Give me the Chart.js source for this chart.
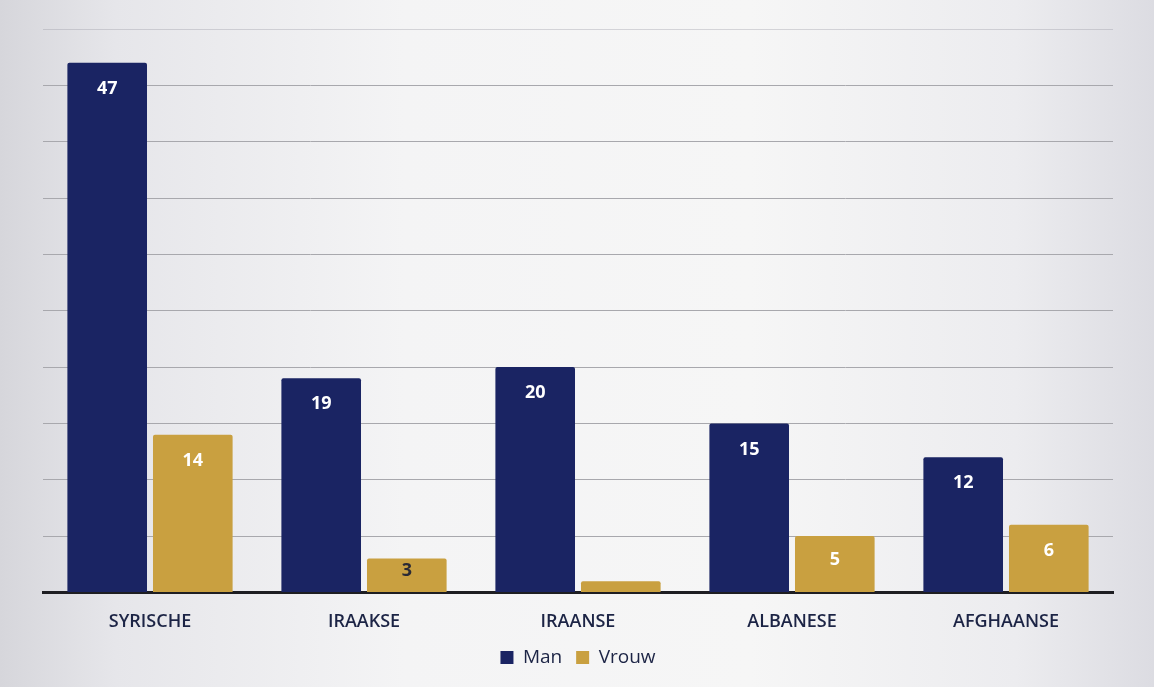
<!DOCTYPE html>
<html lang="en">
<head>
    <meta charset="UTF-8">
    <title>Man / Vrouw per nationaliteit</title>
    <style>
        html, body {
            margin: 0;
            padding: 0;
        }
        body {
            width: 1154px;
            height: 687px;
            background: linear-gradient(90deg, #d6d6db 0%, #e6e6ea 10%, #f4f4f5 35%, #f6f6f6 65%, #ececef 88%, #dcdce2 100%);
            font-family: "Open Sans", Arial, sans-serif;
        }
        .chart-box {
            position: absolute;
            left: 0;
            top: 0;
            width: 1154px;
            height: 687px;
        }
    </style>
</head>
<body>
    <div class="chart-box">
        <canvas id="nationChart"></canvas>
    </div>

    <script src="https://cdn.jsdelivr.net/npm/chart.js"></script>
    <script>
        // Data
        const categories = ['SYRISCHE', 'IRAAKSE', 'IRAANSE', 'ALBANESE', 'AFGHAANSE'];
        const manValues = [47, 19, 20, 15, 12];
        const vrouwValues = [14, 3, 1, 5, 6];
        const vrouwLabelShown = [true, true, false, true, true];
        const yTicks = [0, 5, 10, 15, 20, 25, 30, 35, 40, 45, 50];

        const navy = '#1a2463';
        const gold = '#c9a040';

        // small label plugin: value inside bar, near its top
        const barLabels = {
            id: 'barLabels',
            afterDatasetsDraw(chart) {
                const ctx = chart.ctx;
                ctx.save();
                ctx.font = 'bold 18px "Open Sans", Arial, sans-serif';
                ctx.textAlign = 'center';
                ctx.textBaseline = 'middle';
                chart.data.datasets.forEach((ds, di) => {
                    const meta = chart.getDatasetMeta(di);
                    meta.data.forEach((bar, i) => {
                        if (di === 1 && !vrouwLabelShown[i]) return;
                        const top = bar.y;
                        const bottom = bar.base;
                        const y = Math.min(top + 26, (top + bottom) / 2 - 4);
                        ctx.fillStyle = (di === 1 && ds.data[i] < 4) ? '#2a2a35' : '#ffffff';
                        ctx.fillText(String(ds.data[i]), bar.x, y);
                    });
                });
                ctx.restore();
            }
        };

        const ctx = document.getElementById('nationChart').getContext('2d');
        new Chart(ctx, {
            type: 'bar',
            data: {
                labels: categories,
                datasets: [{
                    label: 'Man',
                    data: manValues,
                    backgroundColor: navy,
                    borderRadius: 2,
                    borderSkipped: 'bottom',
                    barPercentage: 0.93,
                    categoryPercentage: 0.8
                }, {
                    label: 'Vrouw',
                    data: vrouwValues,
                    backgroundColor: gold,
                    borderRadius: 2,
                    borderSkipped: 'bottom',
                    barPercentage: 0.93,
                    categoryPercentage: 0.8
                }]
            },
            options: {
                responsive: true,
                maintainAspectRatio: false,
                animation: false,
                layout: {
                    padding: { left: 43, right: 41, top: 29, bottom: 10 }
                },
                plugins: {
                    legend: {
                        position: 'bottom',
                        labels: {
                            boxWidth: 13,
                            boxHeight: 13,
                            padding: 4,
                            color: '#1c2445',
                            font: { size: 19, family: '"Open Sans", Arial, sans-serif' },
                            // a bit more room after "Man", as in the original
                            generateLabels(chart) {
                                const items = Chart.defaults.plugins.legend.labels.generateLabels(chart);
                                items.forEach((it, i) => {
                                    if (i < items.length - 1) it.text = it.text + '  ';
                                });
                                return items;
                            }
                        }
                    },
                    tooltip: { enabled: false }
                },
                scales: {
                    x: {
                        grid: { display: false },
                        border: { display: true, color: '#1e1e22', width: 3 },
                        ticks: {
                            padding: 11,
                            color: '#1c2445',
                            font: { size: 18, weight: '600', family: '"Open Sans", Arial, sans-serif' }
                        }
                    },
                    y: {
                        min: 0,
                        max: 50,
                        afterBuildTicks(scale) {
                            scale.ticks = yTicks.map(v => ({ value: v }));
                        },
                        afterFit(scale) {
                            scale.width = 0;
                        },
                        ticks: { display: false },
                        border: { display: false },
                        grid: {
                            drawTicks: false,
                            color: c => c.tick && c.tick.value === 50 ? 'rgba(150,150,160,0.35)' : '#a8a8ad',
                            lineWidth: 1
                        }
                    }
                }
            },
            plugins: [barLabels]
        });
    </script>
</body>
</html>
